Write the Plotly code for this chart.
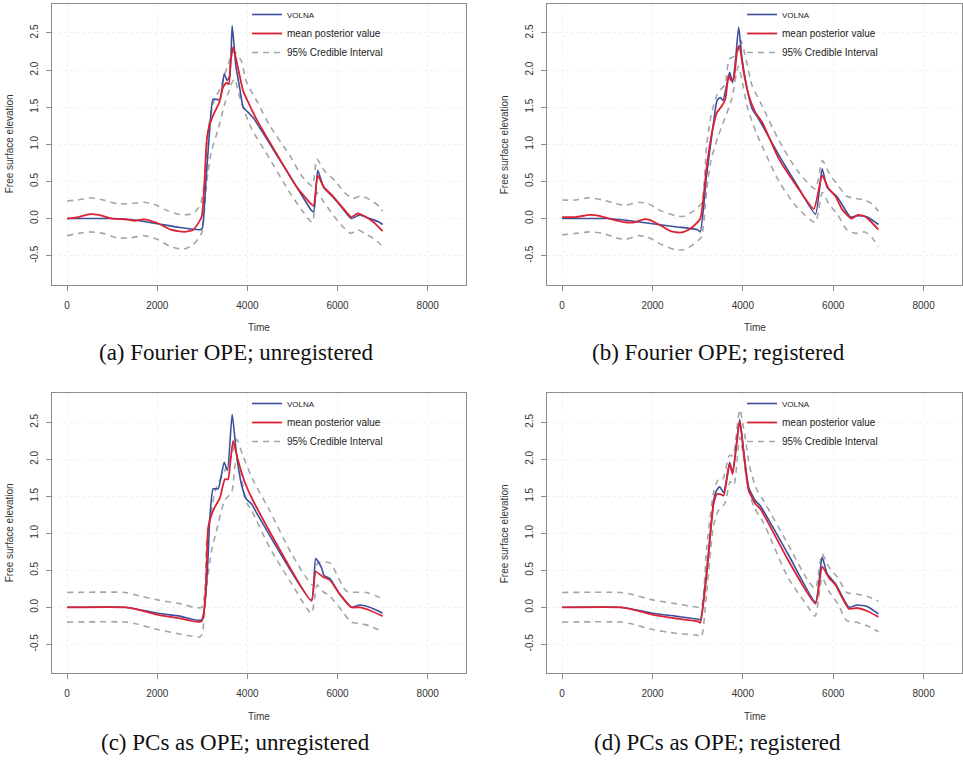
import plotly.graph_objects as go

# ---------------- data ----------------
# Panel (a) Fourier OPE; unregistered
t_volna_a = [0, 500, 1000, 1500, 2000, 2500, 2950, 3000, 3080, 3170, 3240, 3390, 3485, 3550, 3610, 3662, 3744, 3832, 3906, 4017, 4127, 4718, 5100, 5420, 5470, 5560, 5620, 5690, 5900, 6121, 6306, 6490, 6712, 6900, 7000]
volna_a = [0.0, 0.0, 0.0, -0.02, -0.07, -0.12, -0.15, -0.13, 0.5, 1.25, 1.61, 1.60, 1.95, 1.86, 1.92, 2.60, 2.06, 1.75, 1.50, 1.43, 1.36, 0.79, 0.42, 0.11, 0.09, 0.65, 0.55, 0.42, 0.29, 0.13, 0.0, 0.05, 0.0, -0.04, -0.08]
t_mean_a = [0, 250, 500, 700, 1000, 1300, 1500, 1700, 2000, 2300, 2600, 2800, 2983, 3094, 3153, 3240, 3373, 3462, 3536, 3588, 3625, 3684, 3795, 3906, 4054, 4200, 4700, 5100, 5420, 5470, 5560, 5700, 5900, 6121, 6306, 6450, 6600, 6800, 7000]
mean_a = [0.0, 0.02, 0.06, 0.05, 0.0, -0.01, -0.03, -0.01, -0.06, -0.15, -0.18, -0.15, 0.02, 1.03, 1.25, 1.39, 1.56, 1.77, 1.83, 1.81, 2.1, 2.31, 2.02, 1.72, 1.52, 1.34, 0.82, 0.42, 0.19, 0.17, 0.58, 0.42, 0.3, 0.14, 0.02, 0.07, 0.03, -0.05, -0.17]
t_upper_a = [0, 250, 500, 800, 1100, 1400, 1700, 1950, 2250, 2550, 2800, 2950, 3050, 3130, 3277, 3400, 3560, 3700, 3860, 3980, 4230, 4497, 4940, 5200, 5440, 5540, 5700, 5973, 6150, 6342, 6500, 6638, 6800, 6933, 7000]
upper_a = [0.24, 0.25, 0.28, 0.25, 0.2, 0.2, 0.22, 0.19, 0.1, 0.05, 0.07, 0.18, 0.5, 1.2, 1.62, 1.75, 2.06, 2.25, 2.13, 1.84, 1.56, 1.25, 0.85, 0.58, 0.44, 0.8, 0.65, 0.49, 0.35, 0.27, 0.3, 0.28, 0.22, 0.16, 0.1]
t_lower_a = [0, 250, 500, 800, 1100, 1400, 1700, 2000, 2300, 2600, 2800, 2980, 3100, 3200, 3350, 3500, 3650, 3720, 3800, 3930, 4100, 4450, 4940, 5200, 5440, 5540, 5700, 5900, 6100, 6300, 6450, 6600, 6800, 7000]
lower_a = [-0.23, -0.2, -0.18, -0.2, -0.26, -0.26, -0.23, -0.28, -0.38, -0.41, -0.35, -0.2, 0.5, 0.9, 1.2, 1.55, 1.82, 1.88, 1.7, 1.45, 1.2, 0.85, 0.35, 0.12, -0.05, 0.35, 0.22, 0.05, -0.1, -0.2, -0.15, -0.2, -0.27, -0.37]

# Panel (b) Fourier OPE; registered
t_volna_b = [0, 500, 1000, 1500, 2000, 2500, 2800, 3000, 3058, 3200, 3353, 3427, 3500, 3560, 3707, 3774, 3840, 3907, 3982, 4093, 4204, 4351, 4800, 5200, 5607, 5755, 5866, 6088, 6384, 6531, 6753, 7000]
volna_b = [0.0, 0.0, 0.0, -0.03, -0.07, -0.11, -0.13, -0.15, -0.18, 0.6, 1.30, 1.59, 1.63, 1.59, 1.97, 1.83, 2.15, 2.58, 2.15, 1.75, 1.48, 1.34, 0.85, 0.45, 0.06, 0.67, 0.42, 0.29, 0.02, 0.04, 0.02, -0.08]
t_mean_b = [0, 300, 600, 800, 1100, 1400, 1600, 1800, 1950, 2200, 2400, 2615, 2800, 2910, 3058, 3200, 3316, 3427, 3538, 3612, 3686, 3737, 3796, 3870, 3922, 4019, 4130, 4278, 4425, 4800, 5200, 5570, 5755, 5900, 6050, 6200, 6400, 6550, 6700, 6850, 7000]
mean_b = [0.02, 0.02, 0.05, 0.04, -0.01, -0.05, -0.05, -0.01, -0.02, -0.1, -0.17, -0.19, -0.15, -0.1, 0.0, 0.7, 1.16, 1.43, 1.52, 1.61, 1.93, 1.86, 1.88, 2.24, 2.33, 1.97, 1.66, 1.43, 1.3, 0.8, 0.43, 0.13, 0.58, 0.4, 0.3, 0.12, 0.0, 0.05, 0.03, -0.05, -0.15]
t_upper_b = [0, 300, 600, 900, 1200, 1400, 1700, 1900, 2200, 2500, 2700, 2900, 3080, 3200, 3300, 3450, 3600, 3700, 3850, 3950, 4050, 4200, 4400, 4800, 5200, 5600, 5760, 5900, 6100, 6300, 6500, 6700, 6850, 7000]
upper_b = [0.25, 0.25, 0.28, 0.25, 0.2, 0.18, 0.22, 0.2, 0.1, 0.04, 0.03, 0.1, 0.2, 1.0, 1.4, 1.7, 1.8, 2.15, 2.2, 2.4, 2.2, 1.8, 1.55, 1.05, 0.65, 0.4, 0.78, 0.62, 0.45, 0.3, 0.27, 0.25, 0.2, 0.1]
t_lower_b = [0, 300, 600, 900, 1200, 1400, 1700, 1900, 2200, 2500, 2700, 2900, 3080, 3200, 3300, 3450, 3600, 3750, 3900, 4000, 4100, 4300, 4800, 5200, 5600, 5760, 5900, 6100, 6300, 6500, 6700, 6850, 7000]
lower_b = [-0.22, -0.2, -0.18, -0.2, -0.26, -0.28, -0.23, -0.25, -0.35, -0.42, -0.42, -0.35, -0.25, 0.4, 0.8, 1.1, 1.35, 1.6, 2.05, 1.8, 1.5, 1.15, 0.5, 0.15, -0.05, 0.35, 0.2, 0.05, -0.15, -0.2, -0.18, -0.25, -0.38]

# Panel (c) PCs as OPE; unregistered
t_volna_c = [0, 1300, 1500, 2000, 2500, 2983, 3167, 3240, 3350, 3485, 3558, 3662, 3758, 3869, 3980, 4090, 4200, 5420, 5515, 5641, 5700, 5826, 6047, 6306, 6490, 6712, 7000]
volna_c = [0.0, 0.0, -0.02, -0.08, -0.12, -0.17, 1.22, 1.60, 1.60, 1.96, 1.85, 2.61, 2.07, 1.66, 1.46, 1.40, 1.28, 0.09, 0.66, 0.54, 0.43, 0.39, 0.18, 0.0, 0.03, 0.0, -0.08]
t_mean_c = [0, 1300, 1500, 2000, 2500, 2983, 3130, 3240, 3390, 3500, 3570, 3625, 3684, 3795, 3943, 4127, 5420, 5515, 5678, 5826, 6047, 6306, 6490, 6712, 7000]
mean_c = [0.0, 0.0, -0.02, -0.1, -0.15, -0.19, 1.08, 1.31, 1.48, 1.73, 1.73, 1.98, 2.25, 1.98, 1.69, 1.44, 0.09, 0.48, 0.41, 0.37, 0.18, 0.0, 0.0, -0.04, -0.12]
t_upper_c = [0, 1300, 1500, 2000, 2500, 2983, 3100, 3300, 3500, 3650, 3760, 3900, 4100, 4500, 5000, 5450, 5560, 5830, 6195, 6638, 6933, 7000]
upper_c = [0.2, 0.2, 0.17, 0.1, 0.05, 0.0, 0.9, 1.6, 1.85, 2.05, 2.27, 2.05, 1.75, 1.3, 0.7, 0.3, 0.6, 0.6, 0.22, 0.2, 0.13, 0.07]
t_lower_c = [0, 1300, 1500, 2000, 2500, 2950, 3000, 3100, 3200, 3300, 3500, 3650, 3750, 3850, 3950, 4100, 4500, 5000, 5420, 5550, 5700, 5800, 6100, 6300, 6500, 6700, 7000]
lower_c = [-0.2, -0.2, -0.22, -0.3, -0.36, -0.4, -0.35, 0.3, 0.75, 1.0, 1.45, 1.55, 2.0, 1.85, 1.45, 1.3, 0.8, 0.3, -0.08, 0.3, 0.2, 0.17, -0.05, -0.2, -0.22, -0.25, -0.33]

# Panel (d) PCs as OPE; registered
t_volna_d = [0, 1300, 1500, 2000, 2500, 3000, 3058, 3200, 3353, 3412, 3486, 3575, 3707, 3774, 3929, 4019, 4130, 4278, 4389, 5000, 5607, 5755, 5866, 6050, 6347, 6531, 6753, 7000]
volna_d = [0.0, 0.0, -0.02, -0.08, -0.12, -0.16, -0.17, 0.5, 1.44, 1.57, 1.63, 1.55, 1.96, 1.82, 2.54, 2.11, 1.62, 1.44, 1.37, 0.72, 0.07, 0.68, 0.45, 0.32, 0.0, 0.03, 0.01, -0.09]
t_mean_d = [0, 1300, 1500, 2000, 2500, 3000, 3058, 3200, 3353, 3427, 3500, 3575, 3707, 3774, 3929, 4019, 4130, 4278, 4389, 5000, 5607, 5755, 5903, 6050, 6347, 6531, 6753, 7000]
mean_d = [0.0, 0.0, -0.02, -0.1, -0.15, -0.19, -0.21, 0.45, 1.4, 1.53, 1.53, 1.51, 1.94, 1.80, 2.52, 2.08, 1.58, 1.40, 1.33, 0.64, 0.05, 0.55, 0.4, 0.3, -0.02, -0.01, -0.05, -0.13]
t_upper_d = [0, 1300, 1500, 2000, 2500, 3000, 3080, 3200, 3350, 3450, 3550, 3700, 3780, 3929, 4050, 4150, 4300, 4450, 5000, 5450, 5607, 5755, 5900, 6100, 6300, 6500, 6750, 7000]
upper_d = [0.2, 0.2, 0.18, 0.1, 0.05, 0.0, 0.0, 0.8, 1.55, 1.72, 1.72, 2.05, 2.05, 2.67, 2.3, 1.9, 1.6, 1.45, 0.85, 0.35, 0.25, 0.72, 0.55, 0.4, 0.2, 0.18, 0.15, 0.08]
t_lower_d = [0, 1300, 1500, 2000, 2500, 3000, 3080, 3200, 3350, 3450, 3600, 3720, 3800, 3929, 4000, 4100, 4250, 4450, 5000, 5450, 5600, 5755, 5900, 6100, 6300, 6500, 6750, 7000]
lower_d = [-0.2, -0.2, -0.22, -0.3, -0.35, -0.38, -0.4, 0.2, 1.1, 1.3, 1.4, 1.7, 1.65, 2.3, 2.1, 1.65, 1.35, 1.15, 0.4, 0.0, -0.12, 0.4, 0.22, 0.05, -0.18, -0.2, -0.25, -0.33]

captions = ["(a) Fourier OPE; unregistered", "(b) Fourier OPE; registered",
            "(c) PCs as OPE; unregistered", "(d) PCs as OPE; registered"]
x_ticks = [0, 2000, 4000, 6000, 8000]
y_ticks = [-0.5, 0.0, 0.5, 1.0, 1.5, 2.0, 2.5]

panels = [
    (t_volna_a, volna_a, t_mean_a, mean_a, t_upper_a, upper_a, t_lower_a, lower_a),
    (t_volna_b, volna_b, t_mean_b, mean_b, t_upper_b, upper_b, t_lower_b, lower_b),
    (t_volna_c, volna_c, t_mean_c, mean_c, t_upper_c, upper_c, t_lower_c, lower_c),
    (t_volna_d, volna_d, t_mean_d, mean_d, t_upper_d, upper_d, t_lower_d, lower_d),
]

# ---------------- layout geometry (pixels in a 963 x 764 page) ----------------
W, H = 963, 764
boxes = [  # left, right, top, bottom
    (52, 466, 3, 284),
    (547, 962, 3, 284),
    (52, 466, 393, 673),
    (547, 962, 393, 673),
]
caption_cx = [236, 718, 235, 717]
caption_cy = [352, 352, 742, 742]

BLUE = "#3C4F9C"
RED = "#DC2232"
GREY = "#A3A6A6"
FONT = "Liberation Sans, Arial, sans-serif"

fig = go.Figure()
for i, (tv, v, tm, m, tu, u, tl, lo) in enumerate(panels):
    sfx = "" if i == 0 else str(i + 1)
    xa, ya = "x" + sfx, "y" + sfx
    lg = "legend" + sfx
    common = dict(xaxis=xa, yaxis=ya, legend=lg, mode="lines", line_shape="spline", hoverinfo="skip")
    fig.add_trace(go.Scatter(x=tu, y=u, name="95% Credible Interval", legendrank=3,
                             line=dict(color=GREY, width=1.6, dash="6px,5px", smoothing=0.6), **common))
    fig.add_trace(go.Scatter(x=tl, y=lo, name="95% Credible Interval", showlegend=False,
                             line=dict(color=GREY, width=1.6, dash="6px,5px", smoothing=0.6), **common))
    fig.add_trace(go.Scatter(x=tv, y=v, name="<span style='font-size:8px'>VOLNA</span>", legendrank=1,
                             line=dict(color=BLUE, width=1.6, smoothing=0.5), **common))
    fig.add_trace(go.Scatter(x=tm, y=m, name="mean posterior value", legendrank=2,
                             line=dict(color=RED, width=1.8, smoothing=0.5), **common))

layout = dict(
    width=W, height=H, margin=dict(l=0, r=0, t=0, b=0),
    paper_bgcolor="white", plot_bgcolor="white", showlegend=True,
    font=dict(family=FONT, size=10, color="#333333"),
)
annotations = []
for i, (l, r, t, b) in enumerate(boxes):
    sfx = "" if i == 0 else str(i + 1)
    xdom = [l / W, r / W]
    ydom = [1 - b / H, 1 - t / H]
    layout["xaxis" + sfx] = dict(
        domain=xdom, anchor="y" + sfx, range=[-335, 8850],
        tickvals=x_ticks, ticktext=[str(v) for v in x_ticks],
        showline=True, linecolor="#8C8C8C", linewidth=1, mirror=True,
        ticks="outside", ticklen=5, tickcolor="#8C8C8C", ticklabelstandoff=6,
        showgrid=True, gridcolor="#F0F0F0", griddash="dot", zeroline=False,
        tickfont=dict(size=10, color="#333333"),
    )
    layout["yaxis" + sfx] = dict(
        domain=ydom, anchor="x" + sfx, range=[-0.89, 2.89],
        tickvals=y_ticks, ticktext=["%.1f" % v for v in y_ticks], tickangle=-90,
        showline=True, linecolor="#8C8C8C", linewidth=1, mirror=True,
        ticks="outside", ticklen=5, tickcolor="#8C8C8C", ticklabelstandoff=4,
        showgrid=True, gridcolor="#F0F0F0", griddash="dot", zeroline=False,
        tickfont=dict(size=10, color="#333333"),
    )
    leg_x = (l + 195) / W
    layout["legend" + sfx] = dict(
        x=leg_x, y=1 - (t - 4) / H, xanchor="left", yanchor="top",
        bgcolor="rgba(0,0,0,0)", borderwidth=0, tracegroupgap=0,
        font=dict(family=FONT, size=10, color="#222222"),
    )
    cx = (l + r) / 2
    annotations.append(dict(text="Time", x=cx / W, y=1 - (b + 43) / H, xref="paper", yref="paper",
                            showarrow=False, xanchor="center", yanchor="middle",
                            font=dict(family=FONT, size=10, color="#333333")))
    annotations.append(dict(text="Free surface elevation", x=(l - 43) / W, y=1 - ((t + b) / 2) / H,
                            xref="paper", yref="paper", showarrow=False, textangle=-90,
                            xanchor="center", yanchor="middle",
                            font=dict(family=FONT, size=10, color="#333333")))
    annotations.append(dict(text=captions[i], x=caption_cx[i] / W, y=1 - caption_cy[i] / H,
                            xref="paper", yref="paper",
                            showarrow=False, xanchor="center", yanchor="middle",
                            font=dict(family="Liberation Serif, Times New Roman, serif", size=23, color="#111111")))
layout["annotations"] = annotations
fig.update_layout(**layout)

fig.write_html("out.html")
